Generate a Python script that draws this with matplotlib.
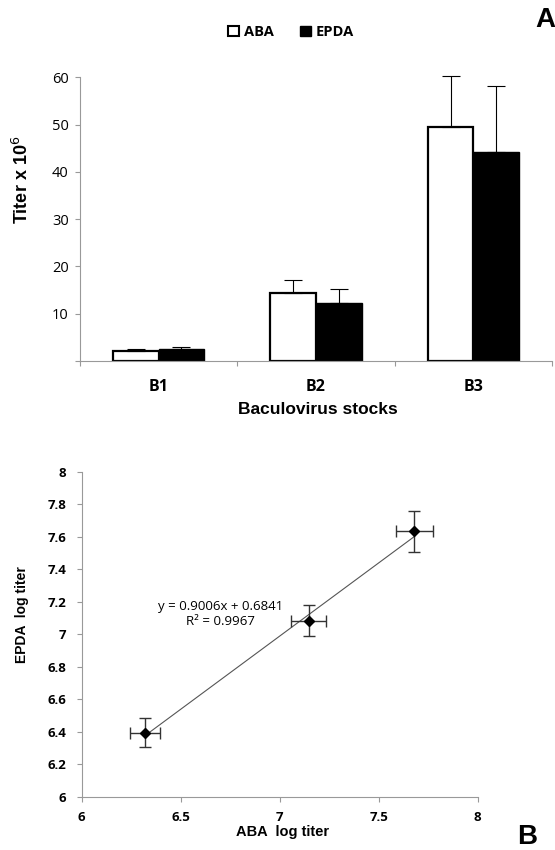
import numpy as np
import matplotlib
matplotlib.use("Agg")
import matplotlib.pyplot as plt
from matplotlib.patches import Patch

# panel A - bar chart
stocks = ["B1", "B2", "B3"]
aba_titer = [2.1, 14.4, 49.4]
aba_err = [0.4, 2.8, 10.8]
epda_titer = [2.5, 12.3, 44.2]
epda_err = [0.5, 2.8, 13.9]

# panel B - log titer correlation
aba_log = [6.32, 7.147, 7.68]
aba_log_err = [0.076, 0.089, 0.093]
epda_log = [6.393, 7.083, 7.634]
epda_log_err = [0.09, 0.094, 0.126]
slope, intercept, r2 = 0.9006, 0.6841, 0.9967

axis_gray = "#999999"
tickfont = "Open Sans"
labelfont = "Liberation Sans"

fig = plt.figure(figsize=(5.55, 8.5), dpi=100)

# ---- A
ax1 = fig.add_axes([0.1441, 0.5756, 0.8505, 0.3334])
x = np.arange(len(stocks))
w = 0.29
ekw = dict(ecolor="black", elinewidth=0.8, capsize=6.5, capthick=0.8)
b1 = ax1.bar(x - w/2, aba_titer, w, color="white", edgecolor="black", linewidth=1.6,
             yerr=[np.zeros(3), aba_err], error_kw=ekw)
b2 = ax1.bar(x + w/2, epda_titer, w, color="black", edgecolor="black", linewidth=1.0,
             yerr=[np.zeros(3), epda_err], error_kw=ekw)
for bc in (b1, b2):
    for part in bc.errorbar.lines:
        if part is None:
            continue
        for art in (part if isinstance(part, tuple) else [part]):
            art.set_clip_on(False)
ax1.set_xlim(-0.5, 2.5)
ax1.set_ylim(0, 60)
ax1.set_yticks([0, 10, 20, 30, 40, 50, 60])
ax1.set_yticklabels(["", "10", "20", "30", "40", "50", "60"], family=tickfont, fontsize=10.5)
ax1.set_xticks([-0.5, 0.5, 1.5, 2.5])
ax1.set_xticklabels([])
ax1.set_xticks(x, minor=True)
ax1.set_xticklabels(stocks, minor=True, family=tickfont, fontsize=11.5, fontweight="bold")
ax1.tick_params(axis="x", which="minor", length=0, pad=13)
ax1.tick_params(axis="x", which="major", length=3.6, color=axis_gray, direction="out")
ax1.tick_params(axis="y", length=3.6, color=axis_gray, direction="out", pad=4.5)
for s in ["top", "right"]:
    ax1.spines[s].set_visible(False)
for s in ["left", "bottom"]:
    ax1.spines[s].set_color(axis_gray)
ax1.set_ylabel("Titer x 10$^{6}$", family=labelfont, fontsize=13, fontweight="bold", va="center")
ax1.yaxis.set_label_coords(-0.1229, 0.6376)
ax1.set_xlabel("Baculovirus stocks", family=labelfont, fontsize=12.5, fontweight="bold", va="center")
ax1.xaxis.set_label_coords(0.504, -0.1704)

handles = [Patch(facecolor="white", edgecolor="black", linewidth=1.5, label="ABA"),
           Patch(facecolor="black", edgecolor="black", label="EPDA")]
fig.legend(handles=handles, loc="center", bbox_to_anchor=(291/555, 1 - 32/850), ncol=2,
           frameon=False, handlelength=0.75, handleheight=0.75, handletextpad=0.35,
           columnspacing=1.8, prop=dict(family=tickfont, size=10.5, weight="bold"))

fig.text(545/555, 1 - 20/850, "A", family=labelfont, fontsize=20, fontweight="bold",
         ha="center", va="center")

# ---- B
ax2 = fig.add_axes([0.1472, 0.0627, 0.7135, 0.3824])
xs = np.array([min(aba_log), max(aba_log)])
ax2.plot(xs, slope*xs + intercept, color="#555555", linewidth=0.8, zorder=1)
ax2.errorbar(aba_log, epda_log, xerr=aba_log_err, yerr=epda_log_err, fmt="D", color="black",
             markersize=5, ecolor="#333333", elinewidth=1.0, capsize=4.3, capthick=1.0, zorder=3)
ax2.set_xlim(6, 8)
ax2.set_ylim(6, 8)
ax2.set_xticks([6, 6.5, 7, 7.5, 8])
ax2.set_xticklabels(["6", "6.5", "7", "7.5", "8"], family=tickfont, fontsize=9.5, fontweight="bold")
yt = np.round(np.arange(6, 8.01, 0.2), 1)
ax2.set_yticks(yt)
ax2.set_yticklabels([f"{v:g}" for v in yt], family=tickfont, fontsize=9.5, fontweight="bold")
ax2.tick_params(axis="both", length=3.6, color=axis_gray, direction="out")
ax2.tick_params(axis="x", pad=7)
ax2.tick_params(axis="y", pad=7.5)
for s in ["top", "right"]:
    ax2.spines[s].set_visible(False)
for s in ["left", "bottom"]:
    ax2.spines[s].set_color(axis_gray)
ax2.set_ylabel("EPDA  log titer", family=labelfont, fontsize=10, fontweight="bold", va="center")
ax2.yaxis.set_label_coords(-0.1508, 0.559)
ax2.set_xlabel("ABA  log titer", family=labelfont, fontsize=10.5, fontweight="bold", va="center")
ax2.xaxis.set_label_coords(0.507, -0.1086)
ax2.text(6.70, 7.124, f"y = {slope}x + {intercept}\nR\u00b2 = {r2}", family=tickfont, fontsize=9.5,
         ha="center", va="center", linespacing=1.2)

fig.text(527/555, 1 - 837/850, "B", family=labelfont, fontsize=20, fontweight="bold",
         ha="center", va="center")

fig.savefig("out.png", dpi=100)
